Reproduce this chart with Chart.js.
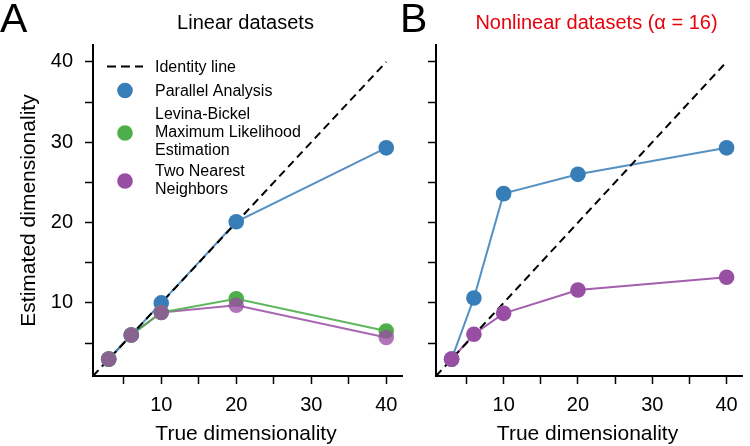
<!DOCTYPE html>
<html>
<head>
<meta charset="utf-8">
<script src="https://cdn.jsdelivr.net/npm/chart.js@4.4.1/dist/chart.umd.min.js"></script>
<style>
  body { margin: 0; background: #fff; }
  #wrap { position: relative; width: 750px; height: 446px; }
  canvas { position: absolute; left: 0; top: 0; }
</style>
</head>
<body>
<div id="wrap">
  <canvas id="panelA" width="750" height="446"></canvas>
  <canvas id="panelB" width="750" height="446"></canvas>
</div>
<script>
// true dimensionality of each dataset
const trueDims = [3, 6, 10, 20, 40];
// panel A, linear datasets
const linearPA = [3, 6, 10, 20.1, 29.3];
const linearMLE = [3, 6, 8.8, 10.5, 6.5];
const linearTNN = [3, 6, 8.8, 9.7, 5.7];
// panel B, nonlinear datasets
const nonlinPA = [3, 10.6, 23.6, 26, 29.3];
const nonlinTNN = [3, 6.1, 8.7, 11.6, 13.2];
// identity line end points
const identityEnds = [0.9, 40];
// tick marks, labelled every 10
const tickValues = [5, 10, 15, 20, 25, 30, 35, 40];

const FONT = '"Liberation Sans", Arial, sans-serif';
const BLUE = '#377eb8', GREEN = '#4daf4a', PURPLE = '#984ea3';

function pts(ys) {
    return trueDims.map((x, i) => ({x: x, y: ys[i]}));
}

function lineSet(ys, color) {
    return {data: pts(ys), showLine: true, borderColor: color, borderWidth: 2, pointRadius: 0, order: 10, clip: false};
}

function dotSet(ys, color, order) {
    return {data: pts(ys), showLine: false, pointRadius: 7.8, pointHoverRadius: 7.8,
        pointBorderWidth: 0, backgroundColor: color, order: order, clip: false};
}

function identitySet() {
    return {data: identityEnds.map(v => ({x: v, y: v})), showLine: true, borderColor: '#000', borderWidth: 2,
        borderDash: [8, 5], pointRadius: 0, order: 5, clip: false};
}

function axis(showLabels, fitSize, isX) {
    return {
        type: 'linear', min: 0.9, max: 42.1,
        border: {display: true, color: '#000', width: 2},
        grid: {drawOnChartArea: false, drawTicks: true, tickLength: 8, tickColor: '#000', tickWidth: 1.5},
        ticks: {
            color: '#000', font: {family: FONT, size: 20}, padding: isX ? 9 : 12, autoSkip: false, maxRotation: 0,
            callback: v => (showLabels && v % 10 === 0) ? String(v) : ''
        },
        afterBuildTicks: s => { s.ticks = tickValues.map(v => ({value: v})); },
        afterFit: s => { if (isX) s.height = fitSize; else s.width = fitSize; }
    };
}

function textPlugin(items) {
    return {
        id: 'texts',
        afterDraw(chart) {
            const ctx = chart.ctx;
            ctx.save();
            items.forEach(t => {
                ctx.save();
                ctx.font = t.size + 'px ' + FONT;
                ctx.fillStyle = t.color || '#000';
                ctx.textAlign = t.align || 'left';
                ctx.textBaseline = 'alphabetic';
                ctx.translate(t.x, t.y);
                if (t.rotate) ctx.rotate(-Math.PI / 2);
                ctx.fillText(t.text, 0, 0);
                ctx.restore();
            });
            ctx.restore();
        }
    };
}

const legendPlugin = {
    id: 'legendBox',
    afterDraw(chart) {
        const ctx = chart.ctx;
        ctx.save();
        ctx.strokeStyle = '#000';
        ctx.lineWidth = 2;
        ctx.setLineDash([9, 5]);
        ctx.beginPath();
        ctx.moveTo(107, 66.5);
        ctx.lineTo(143, 66.5);
        ctx.stroke();
        ctx.setLineDash([]);
        [[BLUE, 90.5], [GREEN, 133], [PURPLE, 181]].forEach(([c, y]) => {
            ctx.fillStyle = c;
            ctx.beginPath();
            ctx.arc(125, y, 7.8, 0, Math.PI * 2);
            ctx.fill();
        });
        ctx.fillStyle = '#000';
        ctx.font = '16px ' + FONT;
        [['Identity line', 72], ['Parallel Analysis', 96], ['Levina-Bickel', 119],
         ['Maximum Likelihood', 137], ['Estimation', 155], ['Two Nearest', 176], ['Neighbors', 194]]
            .forEach(([s, y]) => ctx.fillText(s, 155, y));
        ctx.restore();
    }
};

const chartA = new Chart(document.getElementById('panelA'), {
    type: 'scatter',
    data: {
        datasets: [
            lineSet(linearPA, 'rgba(55,126,184,0.85)'),
            lineSet(linearMLE, 'rgba(77,175,74,0.9)'),
            lineSet(linearTNN, 'rgba(152,78,163,0.85)'),
            identitySet(),
            dotSet(linearPA, BLUE, 3),
            dotSet(linearMLE, GREEN, 2),
            dotSet(linearTNN, 'rgba(152,78,163,0.78)', 1)
        ]
    },
    plugins: [legendPlugin, textPlugin([
        {text: 'A', x: 0, y: 32, size: 41},
        {text: 'Linear datasets', x: 245.5, y: 29, size: 20, align: 'center'},
        {text: 'True dimensionality', x: 246, y: 440, size: 21, align: 'center'},
        {text: 'Estimated dimensionality', x: 35, y: 210.5, size: 21, align: 'center', rotate: true}
    ])],
    options: {
        responsive: false,
        animation: false,
        devicePixelRatio: 1,
        layout: {padding: {left: 0, right: 348, top: 45, bottom: 0}},
        plugins: {legend: {display: false}, tooltip: {enabled: false}},
        scales: {
            x: axis(true, 70, true),
            y: axis(true, 93, false)
        }
    }
});

const chartB = new Chart(document.getElementById('panelB'), {
    type: 'scatter',
    data: {
        datasets: [
            lineSet(nonlinPA, 'rgba(55,126,184,0.85)'),
            lineSet(nonlinTNN, 'rgba(152,78,163,0.9)'),
            identitySet(),
            dotSet(nonlinPA, BLUE, 3),
            dotSet(nonlinTNN, PURPLE, 1)
        ]
    },
    plugins: [textPlugin([
        {text: 'B', x: 400, y: 32, size: 41},
        {text: 'Nonlinear datasets (\u03b1 = 16)', x: 596.5, y: 29, size: 20, align: 'center', color: '#e8000b'},
        {text: 'True dimensionality', x: 587.5, y: 440, size: 21, align: 'center'}
    ])],
    options: {
        responsive: false,
        animation: false,
        devicePixelRatio: 1,
        layout: {padding: {left: 0, right: 5, top: 45, bottom: 0}},
        plugins: {legend: {display: false}, tooltip: {enabled: false}},
        scales: {
            x: axis(true, 70, true),
            y: axis(false, 436, false)
        }
    }
});
</script>
</body>
</html>
